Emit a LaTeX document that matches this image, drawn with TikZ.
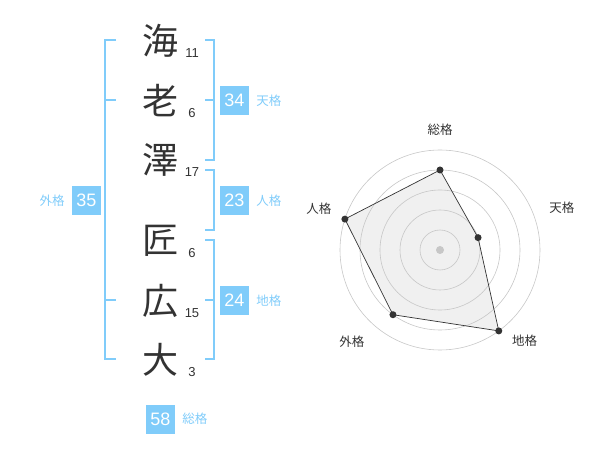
\documentclass[tikz,border=0pt]{standalone}
\usepackage{fontspec}
\setmainfont{Liberation Sans}
\newfontfamily\jp{Noto Sans CJK JP}
\usepackage{tikz}
\usetikzlibrary{positioning}
\definecolor{kaku}{RGB}{128,204,250}
\definecolor{ink}{RGB}{51,51,51}

\begin{document}
\begin{tikzpicture}[x=1pt,y=-1pt,
    kanji/.style={font=\jp\fontsize{36}{36}\selectfont,text=ink,inner sep=0},
    strokes/.style={font=\fontsize{13}{13}\selectfont,text=ink,inner sep=0},
    kakubox/.style={fill=kaku,text=white,minimum size=29pt,inner sep=0,
      font=\fontsize{18}{18}\selectfont},
    kakuname/.style={font=\jp\fontsize{12.5}{12.5}\selectfont,text=kaku,inner sep=0},
    bracket/.style={draw=kaku,line width=2pt},
    axisname/.style={font=\jp\fontsize{12.5}{12.5}\selectfont,text=ink,inner sep=0}]
    \useasboundingbox (0,0) rectangle (600,470);
    % name and strokes
    \foreach \c/\n/\y [count=\i] in {海/11/41,老/6/101,澤/17/160,匠/6/241,広/15/301,大/3/360}
      \node[kanji] (ch\i) at (160,\y) {\c}
      node[strokes] (st\i) at (192,\y+12) {\n};
    \draw[bracket] (205,40) -- (214,40) -- (214,160) -- (205,160) (205,100) -- (214,100);
    \draw[bracket] (205,170) -- (214,170) -- (214,230) -- (205,230);
    \draw[bracket] (205,240) -- (214,240) -- (214,359) -- (205,359) (205,300) -- (214,300);
    \draw[bracket] (116,40) -- (105,40) -- (105,359) -- (116,359)
      (105,100) -- (116,100) (105,300) -- (116,300);
    \node[kakubox] (ten) at (234.5,100.5) {34};
    \node[kakuname,right=7pt of ten] (tenname) {天格};
    \node[kakubox] (jin) at (234.5,200.5) {23};
    \node[kakuname,right=7pt of jin] (jinname) {人格};
    \node[kakubox] (chi) at (234.5,300.5) {24};
    \node[kakuname,right=7pt of chi] (chiname) {地格};
    \node[kakubox] (gai) at (86.5,200.5) {35};
    \node[kakuname,left=7pt of gai] (gainame) {外格};
    \node[kakubox] (sou) at (160.5,419) {58};
    \node[kakuname,right=7pt of sou] (souname) {総格};
    % radar
    \begin{scope}[shift={(440,250)},y=1pt]
      \fill[black!6]
        (90:80) -- (18:40) -- (-54:100) -- (-126:80) -- (162:100) -- cycle;
      \foreach \r in {20,40,...,100}
        \draw[black!22,line width=.6pt] (0,0) circle (\r);
      \fill[black!22] (0,0) circle (4);
      \draw[ink,line width=.7pt]
        (90:80) -- (18:40) -- (-54:100) -- (-126:80) -- (162:100) -- cycle;
      \foreach \a/\r [count=\i] in {90/80,18/40,-54/100,-126/80,162/100}
        \fill[ink] (\a:\r) circle (3.5) coordinate (pt\i);
      \node[axisname] (ax1) at (90:120) {総格};
      \node[axisname] (ax2) at (19:129) {天格};
      \node[axisname] (ax3) at (-47:124) {地格};
      \node[axisname] (ax4) at (-134:127) {外格};
      \node[axisname] (ax5) at (161:128) {人格};
    \end{scope}
\end{tikzpicture}
\end{document}
